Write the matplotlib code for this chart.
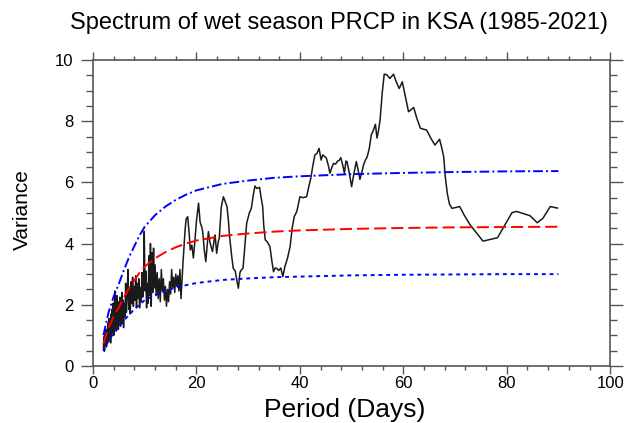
import matplotlib
matplotlib.use('Agg')
import matplotlib.pyplot as plt
from matplotlib.ticker import MultipleLocator

plt.rcParams['font.family'] = ['Liberation Sans', 'DejaVu Sans']

# ---- spectrum (period in days, variance) ----
period = [
    2.0, 2.1, 2.2, 2.3, 2.4, 2.5, 2.6, 2.7, 2.8, 2.9,
    3.0, 3.1, 3.2, 3.3, 3.4, 3.5, 3.6, 3.7, 3.8, 3.9,
    4.0, 4.1, 4.2, 4.3, 4.4, 4.5, 4.6, 4.7, 4.8, 4.9,
    5.0, 5.1, 5.2, 5.3, 5.4, 5.5, 5.6, 5.7, 5.8, 5.9, 6.0,
    6.15, 6.3, 6.45, 6.6, 6.75, 6.9, 7.05, 7.2, 7.35, 7.5,
    7.65, 7.8, 7.95, 8.1, 8.25, 8.4, 8.55, 8.7, 8.85, 9.0,
    9.15, 9.3, 9.45, 9.6, 9.75, 9.9, 10.05, 10.2, 10.35, 10.5,
    10.65, 10.8, 10.95, 11.1, 11.25, 11.4, 11.55, 11.7, 11.85, 12.0,
    12.2, 12.4, 12.6, 12.8, 13.0, 13.2, 13.4, 13.6, 13.8, 14.0,
    14.2, 14.4, 14.6, 14.8, 15.0, 15.2, 15.4, 15.6, 15.8, 16.0,
    16.2, 16.4, 16.6, 16.8, 17.0, 17.2, 17.4, 17.6, 17.8, 18.0,
    18.3, 18.6, 18.8, 19.1, 19.4, 19.7, 20.0, 20.4, 20.7, 21.0,
    21.2, 21.5, 21.8, 22.1, 22.3, 22.6, 22.9, 23.1, 23.4, 23.6,
    23.9, 24.2, 24.4, 24.8, 25.2, 25.5, 25.9, 26.2, 26.4, 26.8,
    27.1, 27.5, 27.8, 28.1, 28.4, 28.6, 29.0, 29.3, 29.7, 30.2,
    30.6, 31.0, 31.3, 31.7, 32.2, 32.5, 32.8, 33.0, 33.3, 33.7,
    34.2, 34.6, 34.9, 35.2, 35.5, 35.9, 36.3, 36.7, 37.1, 37.6,
    38.1, 38.5, 38.9, 39.4, 40.0, 40.6, 41.3, 41.7, 42.1, 42.5,
    42.9, 43.3, 43.7, 44.1, 44.4, 44.7, 45.1, 45.5, 45.8, 46.2,
    46.5, 46.9, 47.3, 47.6, 47.9, 48.3, 48.6, 48.9, 49.1, 49.5,
    50.0, 50.4, 50.9, 51.2, 51.6, 52.0, 52.3, 52.7, 53.0, 53.4,
    53.8, 54.2, 54.6, 54.9, 55.2, 55.5, 55.9, 56.3, 56.8, 57.4,
    58.1, 58.6, 59.2, 59.8, 60.4, 61.0, 61.5, 62.0, 62.6, 63.3,
    64.5, 65.3, 66.1, 67.0, 67.4, 67.8, 68.1, 68.5, 68.9, 69.4,
    70.9, 71.7, 72.8, 73.9, 75.4, 78.2, 79.6, 81.0, 81.9, 84.5,
    85.9, 87.0, 88.4, 89.8]
variance = [
    0.55, 0.95, 0.48, 1.05, 0.70, 1.20, 0.62, 1.15, 0.85, 1.40,
    0.80, 1.55, 0.95, 1.30, 0.75, 1.70, 1.05, 1.85, 1.10, 2.05,
    1.00, 1.60, 2.45, 1.25, 1.90, 1.15, 2.30, 1.35, 2.10, 1.20,
    1.95, 1.45, 2.25, 1.30, 1.85, 1.55, 2.40, 1.40, 2.15, 1.25, 2.05,
    1.60, 2.70, 1.75, 2.35, 3.15, 1.85, 2.50, 1.70, 2.75, 2.05,
    2.90, 1.95, 2.60, 2.15, 2.95, 1.90, 2.70, 2.20, 2.85, 1.90,
    2.55, 2.10, 3.05, 2.25, 2.60, 4.40, 2.45, 3.10, 1.90, 2.70,
    2.05, 3.60, 2.30, 4.00, 1.95, 3.70, 2.40, 3.85, 2.55, 3.30,
    2.30, 3.05, 2.20, 2.85, 2.10, 3.15, 2.45, 2.85, 2.15, 2.60,
    1.95, 2.50, 2.10, 2.75, 2.35, 3.15, 2.55, 2.90, 2.40, 3.00,
    2.60, 2.95, 2.45, 3.15, 2.20, 2.80, 3.40, 3.90, 4.45, 4.80,
    4.88, 4.30, 3.79, 3.95, 3.53, 4.10, 4.75, 5.32, 4.70, 4.55,
    4.40, 3.80, 3.41, 4.00, 4.39, 4.05, 3.85, 3.74, 4.10, 4.28,
    3.68, 4.05, 4.17, 5.20, 5.53, 5.40, 5.21, 4.70, 4.23, 3.60,
    3.19, 3.10, 2.80, 2.54, 3.05, 3.12, 3.20, 3.80, 4.66, 4.99,
    5.15, 5.60, 5.88, 5.80, 5.84, 5.50, 5.21, 4.60, 4.12, 4.05,
    3.90, 3.40, 3.08, 3.20, 3.19, 3.12, 3.20, 2.92, 3.25, 3.52,
    3.90, 4.50, 4.88, 5.05, 5.53, 5.50, 5.53, 5.85, 6.13, 6.55,
    6.90, 6.95, 7.11, 6.73, 6.90, 6.86, 6.80, 6.55, 6.30, 6.50,
    6.62, 6.60, 6.70, 6.72, 6.81, 6.55, 6.30, 6.70, 6.68, 6.35,
    5.86, 6.25, 6.68, 6.45, 6.10, 6.35, 6.57, 6.75, 6.83, 7.10,
    7.55, 7.70, 7.90, 7.45, 7.70, 8.04, 8.90, 9.54, 9.52, 9.40,
    9.54, 9.30, 9.07, 9.29, 8.80, 8.31, 8.38, 8.45, 8.10, 7.77,
    7.71, 7.45, 7.22, 7.41, 7.15, 6.84, 6.20, 5.64, 5.30, 5.15,
    5.21, 4.95, 4.64, 4.40, 4.08, 4.19, 4.60, 5.01, 5.05, 4.91,
    4.68, 4.83, 5.21, 5.16]

# ---- red-noise curve and confidence bounds ----
ref_period = [2, 3, 4, 5, 6, 7, 8, 9, 10, 12, 14, 16, 18, 20,
              25, 30, 35, 40, 50, 60, 70, 80, 90]
red_noise = [0.72, 1.25, 1.62, 1.92, 2.25, 2.55, 2.80, 3.05, 3.25, 3.52,
             3.72, 3.88, 4.00, 4.10, 4.25, 4.33, 4.39, 4.43, 4.48, 4.51,
             4.53, 4.54, 4.55]
upper_ci = [1.00, 1.75, 2.27, 2.69, 3.15, 3.57, 3.92, 4.27, 4.55, 4.93,
            5.21, 5.43, 5.60, 5.74, 5.95, 6.06, 6.15, 6.20, 6.27, 6.31,
            6.34, 6.36, 6.37]
lower_ci = [0.48, 0.83, 1.07, 1.27, 1.49, 1.68, 1.85, 2.01, 2.15, 2.32,
            2.46, 2.56, 2.64, 2.71, 2.81, 2.86, 2.90, 2.92, 2.96, 2.98,
            2.99, 3.00, 3.00]

fig = plt.figure(figsize=(6.33, 4.23), dpi=100)
ax = fig.add_axes([0.147, 0.135, 0.817, 0.723])

ax.plot(period, variance, color='#1a1a1a', lw=1.1)
ax.plot(ref_period, red_noise, color='red', lw=1.4, dashes=(6.2, 2.6))
ax.plot(ref_period, upper_ci, color='blue', lw=1.4, dashes=(5, 1.6, 1, 1.6))
ax.plot(ref_period, lower_ci, color='blue', lw=1.4, dashes=(2, 2))

ax.set_xlim(0, 100)
ax.set_ylim(0, 10)
ax.xaxis.set_major_locator(MultipleLocator(20))
ax.xaxis.set_minor_locator(MultipleLocator(4))
ax.yaxis.set_major_locator(MultipleLocator(2))
ax.yaxis.set_minor_locator(MultipleLocator(0.5))

for s in ax.spines.values():
    s.set_color('#555555')
    s.set_linewidth(1.2)
ax.tick_params(which='both', direction='out', top=True, right=True,
               color='#555555', width=1.0, labelsize=12)
ax.tick_params(axis='x', which='major', length=5.5, pad=2)
ax.tick_params(axis='x', which='minor', length=3)
ax.tick_params(axis='y', which='major', length=9, pad=5)
ax.tick_params(axis='y', which='minor', length=5)

fig.text(0.536, 0.946, 'Spectrum of wet season PRCP in KSA (1985-2021)',
         ha='center', va='center', fontsize=17)
fig.text(0.545, 0.031, 'Period (Days)', ha='center', va='center', fontsize=19)
fig.text(0.035, 0.504, 'Variance', ha='center', va='center', fontsize=15,
         rotation=90)

fig.savefig('out.png', dpi=100)
